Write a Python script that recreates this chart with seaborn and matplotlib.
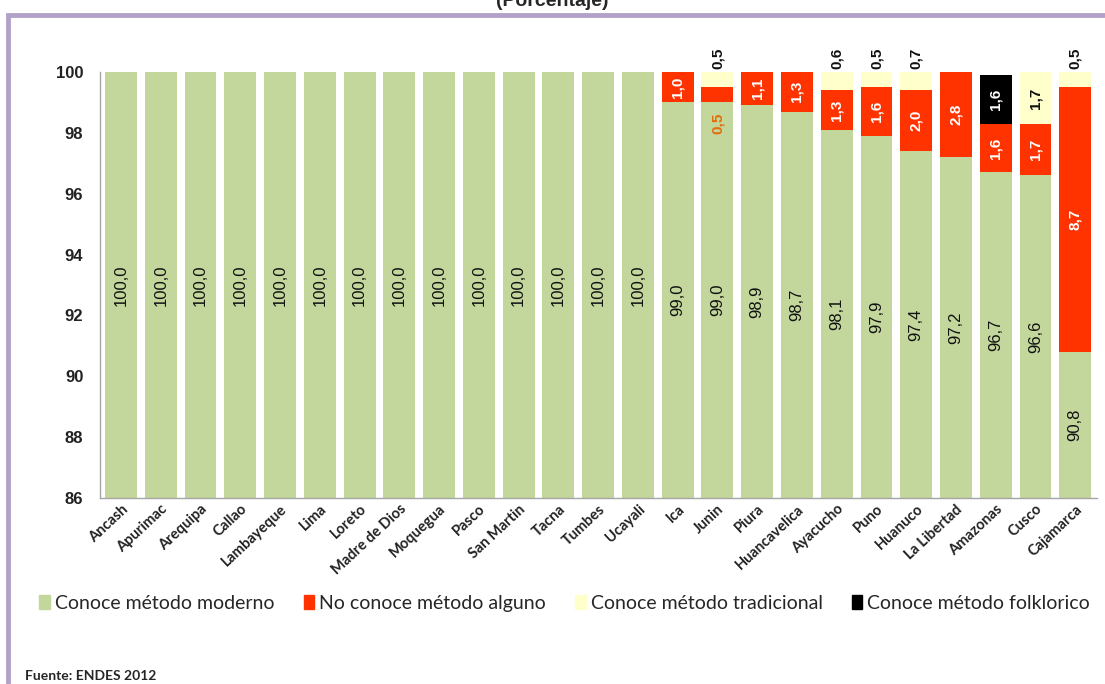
import matplotlib
matplotlib.use("Agg")
import matplotlib.pyplot as plt
import matplotlib.patches as mpatches
import numpy as np
import pandas as pd
import seaborn as sns

regiones = ['Ancash', 'Apurimac', 'Arequipa', 'Callao', 'Lambayeque', 'Lima', 'Loreto',
            'Madre de Dios', 'Moquegua', 'Pasco', 'San Martin', 'Tacna', 'Tumbes', 'Ucayali',
            'Ica', 'Junin', 'Piura', 'Huancavelica', 'Ayacucho', 'Puno', 'Huanuco',
            'La Libertad', 'Amazonas', 'Cusco', 'Cajamarca']
moderno = [100.0] * 14 + [99.0, 99.0, 98.9, 98.7, 98.1, 97.9, 97.4, 97.2, 96.7, 96.6, 90.8]
no_conoce = [0.0] * 14 + [1.0, 0.5, 1.1, 1.3, 1.3, 1.6, 2.0, 2.8, 1.6, 1.7, 8.7]
tradicional = [0.0] * 14 + [0.0, 0.5, 0.0, 0.0, 0.6, 0.5, 0.7, 0.0, 0.0, 1.7, 0.5]
folklorico = [0.0] * 14 + [0.0, 0.0, 0.0, 0.0, 0.0, 0.0, 0.0, 0.0, 1.6, 0.0, 0.0]

series = ['Conoce método moderno', 'No conoce método alguno',
          'Conoce método tradicional', 'Conoce método folklorico']
colores = ['#C3D69B', '#FF3300', '#FFFFCC', '#000000']

df = pd.DataFrame({'region': regiones, series[0]: moderno, series[1]: no_conoce,
                   series[2]: tradicional, series[3]: folklorico})
cum = df[series].cumsum(axis=1)

sns.set_style("white")
fig = plt.figure(figsize=(11.05, 6.84), dpi=100)
ax = fig.add_axes([0.0905, 0.272, 0.9023, 0.6227])

# stacked bars: draw cumulative totals from top layer down
for s, c in reversed(list(zip(series, colores))):
    sns.barplot(x=df['region'], y=cum[s], color=c, saturation=1, width=0.8,
                ax=ax, edgecolor='none')

ax.set_ylim(86, 100)
ax.set_xlim(-0.53, len(regiones) - 0.45)
ax.set_yticks(range(86, 101, 2))
ax.set_xlabel('')
ax.set_ylabel('')
for sp in ['top', 'right']:
    ax.spines[sp].set_visible(False)
for sp in ['left', 'bottom']:
    ax.spines[sp].set_color('#A6A6A6')
    ax.spines[sp].set_linewidth(1)
ax.tick_params(axis='y', length=0, pad=12)
ax.tick_params(axis='x', length=0, pad=3)
for t in ax.get_yticklabels():
    t.set_fontfamily('Liberation Sans')
    t.set_fontweight('bold')
    t.set_fontsize(12)
    t.set_color('#222222')
ax.set_xticks(range(len(regiones)))
ax.set_xticklabels(regiones, rotation=43, ha='right', rotation_mode='anchor',
                   fontsize=10.5, fontfamily='Lato', fontweight='bold', color='#222222')


def fmt(v):
    return f"{v:.1f}".replace('.', ',')


for i in range(len(regiones)):
    m = moderno[i]
    ax.text(i, (86 + m) / 2, fmt(m), rotation=90, ha='center', va='center',
            fontsize=12, fontfamily='Liberation Sans', color='#111111')
    r = no_conoce[i]
    if r > 0:
        if r < 0.6:
            ax.text(i, m - 0.7, fmt(r), rotation=90, ha='center', va='center',
                    fontsize=11, fontfamily='Liberation Sans', fontweight='bold',
                    color='#E46C0A')
        else:
            ax.text(i, m + r / 2, fmt(r), rotation=90, ha='center', va='center',
                    fontsize=11, fontfamily='Liberation Sans', fontweight='bold',
                    color='white', clip_on=False)
    t = tradicional[i]
    if t > 0:
        base = m + r
        if t < 1.0:
            ax.text(i, 100.45, fmt(t), rotation=90, ha='center', va='center',
                    fontsize=11, fontfamily='Liberation Sans', fontweight='bold',
                    color='#111111', clip_on=False)
        else:
            ax.text(i, base + t / 2, fmt(t), rotation=90, ha='center', va='center',
                    fontsize=11, fontfamily='Liberation Sans', fontweight='bold',
                    color='#111111')
    f = folklorico[i]
    if f > 0:
        ax.text(i, m + r + t + f / 2, fmt(f), rotation=90, ha='center', va='center',
                fontsize=11, fontfamily='Liberation Sans', fontweight='bold',
                color='white')

handles = [mpatches.Patch(color=c, label=s) for s, c in zip(series, colores)]
leg = fig.legend(handles=handles, loc='center', bbox_to_anchor=(0.511, 0.118), ncol=4,
                 frameon=False, handlelength=0.55, handleheight=0.7, handletextpad=0.25,
                 columnspacing=1.5, prop={'family': 'Lato', 'size': 14})

fig.text(0.5, 1 - 1 / 684, '(Porcentaje)', ha='center', va='center',
         fontsize=14, fontweight='bold', fontfamily='Liberation Sans')
fig.text(25 / 1105, 1 - 670 / 684, 'Fuente: ENDES 2012', ha='left', va='top',
         fontsize=10, fontweight='bold', fontfamily='Lato')

frame = mpatches.Rectangle((8 / 1105, -0.2), 1.2, 1.2 - 15 / 684,
                           transform=fig.transFigure, fill=False,
                           edgecolor='#B3A2C7', linewidth=3.5, clip_on=False)
fig.patches.append(frame)

fig.savefig('out.png', dpi=100, facecolor='white')
